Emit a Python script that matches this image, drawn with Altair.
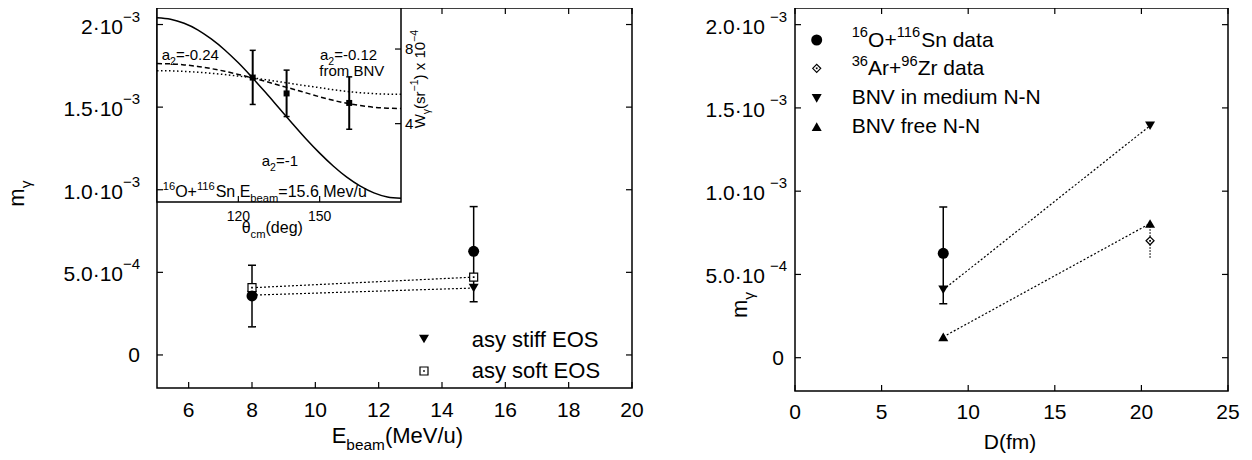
import altair as alt
import pandas as pd

FONT = "Liberation Sans"
BLACK = "black"

# ---------------- values ----------------
# Left panel: m_gamma versus beam energy
E_data = [8, 15]
m_data = [3.57e-4, 6.27e-4]
m_data_lo = [1.70e-4, 3.22e-4]
m_data_hi = [5.43e-4, 8.98e-4]
E_calc = [8, 15]
m_asy_stiff = [3.62e-4, 4.05e-4]
m_asy_soft = [4.07e-4, 4.71e-4]

# Inset: angular distribution W_gamma(theta_cm)
theta_data = [125.3, 137.8, 160.9]
W_data = [6.47, 5.62, 5.11]
W_data_lo = [5.03, 4.38, 3.70]
W_data_hi = [7.93, 6.87, 6.51]
theta_curve = [90, 95, 100, 105, 110, 115, 120, 125, 130, 135, 140, 145, 150, 155, 160, 165, 170, 175, 180]
W_a2_m1 = [9.68, 9.60, 9.38, 9.03, 8.54, 7.95, 7.26, 6.49, 5.68, 4.84, 4.00, 3.18, 2.42, 1.73, 1.13, 0.65, 0.29, 0.07, 0.0]
W_a2_m024 = [7.22, 7.21, 7.15, 7.07, 6.95, 6.81, 6.64, 6.46, 6.27, 6.06, 5.86, 5.65, 5.44, 5.25, 5.09, 4.97, 4.88, 4.83, 4.81]
W_a2_m012 = [6.84, 6.83, 6.80, 6.76, 6.70, 6.63, 6.55, 6.46, 6.36, 6.25, 6.14, 6.03, 5.93, 5.82, 5.73, 5.66, 5.61, 5.58, 5.57]

# Right panel: m_gamma versus D
D_OSn = [8.56]
m_OSn = [6.27e-4]
m_OSn_lo = [3.24e-4]
m_OSn_hi = [9.05e-4]
D_ArZr = [20.5]
m_ArZr = [7.02e-4]
m_ArZr_lo = [6.0e-4]
m_ArZr_hi = [8.06e-4]
D_bnv = [8.56, 20.5]
m_bnv_medium = [4.08e-4, 1.393e-3]
m_bnv_free = [1.25e-4, 8.06e-4]

# Ticks and tick labels
left_x_ticks = [6, 8, 10, 12, 14, 16, 18, 20]
left_x_labels = ["6", "8", "10", "12", "14", "16", "18", "20"]
y_ticks = [0, 5e-4, 1e-3, 1.5e-3, 2e-3]
left_y_mant = ["0", "5.0·10", "1.0·10", "1.5·10", "2·10"]
right_y_mant = ["0", "5.0·10", "1.0·10", "1.5·10", "2.0·10"]
y_exp = ["", "−4", "−3", "−3", "−3"]
right_x_ticks = [0, 5, 10, 15, 20, 25]
right_x_labels = ["0", "5", "10", "15", "20", "25"]
inset_x_ticks = [120, 150]
inset_x_labels = ["120", "150"]
inset_y_ticks = [4, 8]
inset_y_labels = ["4", "8"]

# ---------------- layout (view pixels) ----------------
LW, LH = 475, 380
RX0, RX1, RH = 638, 1071, 383
IW, IH = 244, 194
TK = 6


def sc(domain, rng):
    return alt.Scale(domain=domain, range=rng, nice=False, zero=False)


xL = sc([5, 20], [0, LW])
yL = sc([-2e-4, 2.1e-3], [LH, 0])
xR = sc([0, 25], [RX0, RX1])
yR = sc([-2e-4, 2.1e-3], [RH, 0])
xI = sc([90, 180], [0, IW])
yI = sc([-0.2, 10.2], [IH, 0])


def qx(f, s):
    return alt.X(f + ":Q", scale=s, axis=None)


def qy(f, s):
    return alt.Y(f + ":Q", scale=s, axis=None)


ONE = pd.DataFrame({"k": [0]})
V = alt.value


def frame(x0, x1, y0, y1, fill=None):
    if fill:
        m = alt.Chart(ONE).mark_rect(fill=fill, stroke=BLACK, strokeWidth=1.5)
    else:
        m = alt.Chart(ONE).mark_rect(filled=False, stroke=BLACK, strokeWidth=1.5)
    return m.encode(x=V(x0), x2=V(x1), y=V(y0), y2=V(y1))


def sym(df, xs, ys, xf, yf, shape, size, fill=BLACK, stroke=None, sw=1.2):
    kw = dict(shape=shape, size=size, filled=True, opacity=1, fill=fill)
    if stroke:
        kw.update(stroke=stroke, strokeWidth=sw)
    else:
        kw.update(strokeWidth=0)
    return alt.Chart(df).mark_point(**kw).encode(x=qx(xf, xs), y=qy(yf, ys))


def vsym(x, y, shape, size, fill=BLACK, stroke=None, sw=1.2):
    kw = dict(shape=shape, size=size, filled=True, opacity=1, fill=fill)
    if stroke:
        kw.update(stroke=stroke, strokeWidth=sw)
    else:
        kw.update(strokeWidth=0)
    return alt.Chart(ONE).mark_point(**kw).encode(x=V(x), y=V(y))


txt = dict(font=FONT, color=BLACK)

# ---------------- left panel ----------------
dfL_pts = pd.DataFrame({"E": E_data, "m": m_data, "lo": m_data_lo, "hi": m_data_hi})
dfL_caps = pd.DataFrame({"E": E_data + E_data, "m": m_data_lo + m_data_hi})
dfL_stiff = pd.DataFrame({"E": E_calc, "m": m_asy_stiff})
dfL_soft = pd.DataFrame({"E": E_calc, "m": m_asy_soft})
dfL_xt = pd.DataFrame({"v": left_x_ticks, "lab": left_x_labels})
dfL_yt = pd.DataFrame({"v": y_ticks, "mant": left_y_mant, "exp": y_exp})

tick_kw = dict(color=BLACK, strokeWidth=1.2)
left_a = alt.layer(
    frame(0, LW, 0, LH),
    alt.Chart(dfL_xt).mark_rule(**tick_kw).encode(x=qx("v", xL), y=V(LH), y2=V(LH - TK)),
    alt.Chart(dfL_xt).mark_rule(**tick_kw).encode(x=qx("v", xL), y=V(0), y2=V(TK)),
    alt.Chart(dfL_yt).mark_rule(**tick_kw).encode(y=qy("v", yL), x=V(LW - TK), x2=V(LW)),
    alt.Chart(dfL_xt).mark_text(fontSize=21, baseline="middle", align="center", **txt).encode(
        x=qx("v", xL), y=V(LH + 23), text="lab:N"),
    alt.Chart(dfL_yt[dfL_yt.exp != ""]).mark_text(fontSize=21, baseline="middle", align="right", dy=3, **txt).encode(
        x=V(-34), y=qy("v", yL), text="mant:N"),
    alt.Chart(dfL_yt[dfL_yt.exp != ""]).mark_text(fontSize=15, baseline="middle", align="right", dy=-8, **txt).encode(
        x=V(-17), y=qy("v", yL), text="exp:N"),
    alt.Chart(dfL_yt[dfL_yt.exp == ""]).mark_text(fontSize=21, baseline="middle", align="right", dy=1, **txt).encode(
        x=V(-17), y=qy("v", yL), text="mant:N"),
    alt.Chart(dfL_stiff).mark_line(color=BLACK, strokeWidth=1.2, strokeDash=[2, 2]).encode(
        x=qx("E", xL), y=qy("m", yL)),
    alt.Chart(dfL_soft).mark_line(color=BLACK, strokeWidth=1.2, strokeDash=[2, 2]).encode(
        x=qx("E", xL), y=qy("m", yL)),
    sym(dfL_stiff, xL, yL, "E", "m", "triangle-down", 100),
    alt.Chart(dfL_pts).mark_rule(color=BLACK, strokeWidth=1.5).encode(
        x=qx("E", xL), y=qy("lo", yL), y2="hi:Q"),
    alt.Chart(dfL_caps).mark_tick(orient="horizontal", color=BLACK, size=8, thickness=1.5, opacity=1).encode(
        x=qx("E", xL), y=qy("m", yL)),
    sym(dfL_soft, xL, yL, "E", "m", "square", 64, fill="white", stroke=BLACK),
    sym(dfL_soft, xL, yL, "E", "m", "square", 3),
    sym(dfL_pts, xL, yL, "E", "m", "circle", 121),
    # legend symbols
    vsym(267, 331, "triangle-down", 100),
    vsym(267, 363, "square", 64, fill="white", stroke=BLACK),
    vsym(267, 363, "square", 3),
)

# ---------------- inset ----------------
dfI_curve = pd.DataFrame({"t": theta_curve, "w1": W_a2_m1, "w024": W_a2_m024, "w012": W_a2_m012})
dfI_pts = pd.DataFrame({"t": theta_data, "w": W_data, "lo": W_data_lo, "hi": W_data_hi})
dfI_caps = pd.DataFrame({"t": theta_data + theta_data, "w": W_data_lo + W_data_hi})
dfI_xt = pd.DataFrame({"v": inset_x_ticks, "lab": inset_x_labels})
dfI_yt = pd.DataFrame({"v": inset_y_ticks, "lab": inset_y_labels})

inset = alt.layer(
    frame(0, IW, 0, IH, fill="white"),
    alt.Chart(dfI_curve).mark_line(color=BLACK, strokeWidth=1.5, interpolate="monotone").encode(
        x=qx("t", xI), y=qy("w1", yI)),
    alt.Chart(dfI_curve).mark_line(color=BLACK, strokeWidth=1.5, strokeDash=[5, 3], interpolate="monotone").encode(
        x=qx("t", xI), y=qy("w024", yI)),
    alt.Chart(dfI_curve).mark_line(color=BLACK, strokeWidth=1.5, strokeDash=[1.5, 2.5], interpolate="monotone").encode(
        x=qx("t", xI), y=qy("w012", yI)),
    alt.Chart(dfI_pts).mark_rule(color=BLACK, strokeWidth=2).encode(x=qx("t", xI), y=qy("lo", yI), y2="hi:Q"),
    alt.Chart(dfI_caps).mark_tick(orient="horizontal", color=BLACK, size=6, thickness=1.5, opacity=1).encode(
        x=qx("t", xI), y=qy("w", yI)),
    sym(dfI_pts, xI, yI, "t", "w", "square", 36),
    alt.Chart(dfI_xt).mark_rule(**tick_kw).encode(x=qx("v", xI), y=V(IH), y2=V(IH - TK)),
    alt.Chart(dfI_yt).mark_rule(**tick_kw).encode(y=qy("v", yI), x=V(IW - TK), x2=V(IW)),
    alt.Chart(dfI_xt).mark_text(fontSize=14, baseline="middle", align="center", **txt).encode(
        x=qx("v", xI), y=V(208.5), text="lab:N"),
    alt.Chart(dfI_yt).mark_text(fontSize=15, baseline="middle", align="left", **txt).encode(
        x=V(IW + 4), y=qy("v", yI), text="lab:N"),
)

left_b = alt.Chart(dfL_yt).mark_rule(**tick_kw).encode(y=qy("v", yL), x=V(0), x2=V(TK))

# ---------------- right panel ----------------
dfR_xt = pd.DataFrame({"v": right_x_ticks, "lab": right_x_labels})
dfR_yt = pd.DataFrame({"v": y_ticks, "mant": right_y_mant, "exp": y_exp})
dfR_O = pd.DataFrame({"D": D_OSn, "m": m_OSn, "lo": m_OSn_lo, "hi": m_OSn_hi})
dfR_Ocaps = pd.DataFrame({"D": D_OSn + D_OSn, "m": m_OSn_lo + m_OSn_hi})
dfR_Ar = pd.DataFrame({"D": D_ArZr, "m": m_ArZr, "lo": m_ArZr_lo, "hi": m_ArZr_hi})
dfR_med = pd.DataFrame({"D": D_bnv, "m": m_bnv_medium})
dfR_free = pd.DataFrame({"D": D_bnv, "m": m_bnv_free})

right = alt.layer(
    frame(RX0, RX1, 0, RH),
    alt.Chart(dfR_xt).mark_rule(**tick_kw).encode(x=qx("v", xR), y=V(RH), y2=V(RH - TK)),
    alt.Chart(dfR_xt).mark_rule(**tick_kw).encode(x=qx("v", xR), y=V(0), y2=V(TK)),
    alt.Chart(dfR_yt).mark_rule(**tick_kw).encode(y=qy("v", yR), x=V(RX0), x2=V(RX0 + TK)),
    alt.Chart(dfR_yt).mark_rule(**tick_kw).encode(y=qy("v", yR), x=V(RX1 - TK), x2=V(RX1)),
    alt.Chart(dfR_xt).mark_text(fontSize=21, baseline="middle", align="center", **txt).encode(
        x=qx("v", xR), y=V(RH + 22), text="lab:N"),
    alt.Chart(dfR_yt[dfR_yt.exp != ""]).mark_text(fontSize=21, baseline="middle", align="right", dy=3, **txt).encode(
        x=V(RX0 - 30), y=qy("v", yR), text="mant:N"),
    alt.Chart(dfR_yt[dfR_yt.exp != ""]).mark_text(fontSize=15, baseline="middle", align="right", dy=-8, **txt).encode(
        x=V(RX0 - 8), y=qy("v", yR), text="exp:N"),
    alt.Chart(dfR_yt[dfR_yt.exp == ""]).mark_text(fontSize=21, baseline="middle", align="right", dy=1, **txt).encode(
        x=V(RX0 - 11), y=qy("v", yR), text="mant:N"),
    alt.Chart(dfR_med).mark_line(color=BLACK, strokeWidth=1.2, strokeDash=[2, 2]).encode(
        x=qx("D", xR), y=qy("m", yR)),
    alt.Chart(dfR_free).mark_line(color=BLACK, strokeWidth=1.2, strokeDash=[2, 2]).encode(
        x=qx("D", xR), y=qy("m", yR)),
    alt.Chart(dfR_Ar).mark_rule(color=BLACK, strokeWidth=1.2, strokeDash=[1.5, 1.5]).encode(
        x=qx("D", xR), y=qy("lo", yR), y2="hi:Q"),
    alt.Chart(dfR_O).mark_rule(color=BLACK, strokeWidth=1.5).encode(x=qx("D", xR), y=qy("lo", yR), y2="hi:Q"),
    alt.Chart(dfR_Ocaps).mark_tick(orient="horizontal", color=BLACK, size=8, thickness=1.5, opacity=1).encode(
        x=qx("D", xR), y=qy("m", yR)),
    sym(dfR_O, xR, yR, "D", "m", "circle", 121),
    sym(dfR_med, xR, yR, "D", "m", "triangle-down", 100),
    sym(dfR_free, xR, yR, "D", "m", "triangle-up", 100),
    sym(dfR_Ar, xR, yR, "D", "m", "diamond", 64, fill="white", stroke=BLACK),
    sym(dfR_Ar, xR, yR, "D", "m", "square", 3),
    # legend symbols
    vsym(659.7, 32, "circle", 121),
    vsym(659.7, 60.3, "diamond", 64, fill="white", stroke=BLACK),
    vsym(659.7, 60.3, "square", 3),
    vsym(659.7, 90.3, "triangle-down", 100),
    vsym(659.7, 118.7, "triangle-up", 100),
)

# ---------------- rich text (titles, annotations, legend labels) ----------------
WID = {" ": 278, "(": 333, ")": 333, "+": 584, "-": 333, ".": 278, "/": 278, "=": 584, "·": 278,
       "−": 584, "A": 667, "B": 667, "D": 722, "E": 667, "M": 833, "N": 722, "O": 778, "S": 667,
       "V": 667, "W": 944, "Z": 611, "a": 556, "b": 556, "c": 500, "d": 556, "e": 556, "f": 278,
       "g": 556, "i": 222, "m": 833, "n": 556, "o": 556, "r": 333, "s": 500, "t": 278, "u": 556,
       "v": 500, "x": 500, "y": 500, "θ": 556, "γ": 500}


def twidth(s, size):
    return sum(WID.get(ch, 556) for ch in s) * size / 1000.0


def rich(rows, parts, x, y, size, rot=False):
    pos = 0.0
    for t, kind in parts:
        if kind == "n":
            fs, off = size, 0.0
        elif kind == "sup":
            fs, off = size * 0.7, -size * 0.45
        else:
            fs, off = size * 0.7, size * 0.3
        if rot:
            rows.append({"t": t, "x": x + off, "y": y - pos, "s": fs})
        else:
            rows.append({"t": t, "x": x + pos, "y": y + off, "s": fs})
        pos += twidth(t, fs)


rows, rrows = [], []
rich(rows, [("E", "n"), ("beam", "sub"), ("(MeV/u)", "n")], 174.7, 435.3, 22)
rich(rows, [("D(fm)", "n")], 853 - twidth("D(fm)", 21) / 2, 441, 21)
rich(rows, [("a", "n"), ("2", "sub"), ("=-0.24", "n")], 4.7, 52, 15)
rich(rows, [("a", "n"), ("2", "sub"), ("=-0.12", "n")], 163, 52, 15)
rich(rows, [("from BNV", "n")], 162.3, 68, 15)
rich(rows, [("a", "n"), ("2", "sub"), ("=-1", "n")], 104.7, 158, 15)
rich(rows, [("16", "sup"), ("O+", "n"), ("116", "sup"), ("Sn E", "n"), ("beam", "sub"),
            ("=15.6 Mev/u", "n")], 5.7, 189, 16)
rich(rows, [("θ", "n"), ("cm", "sub"), ("(deg)", "n")], 84.7, 225, 16)
rich(rows, [("asy stiff EOS", "n")], 314.7, 338.7, 22)
rich(rows, [("asy soft EOS", "n")], 314.7, 370, 22)
rich(rows, [("16", "sup"), ("O+", "n"), ("116", "sup"), ("Sn data", "n")], 694.7, 38.5, 21)
rich(rows, [("36", "sup"), ("Ar+", "n"), ("96", "sup"), ("Zr data", "n")], 694.7, 67.3, 21)
rich(rows, [("BNV in medium N-N", "n")], 694.7, 96.2, 21)
rich(rows, [("BNV free N-N", "n")], 694.7, 125.2, 21)

rich(rrows, [("m", "n"), ("γ", "sub")], -133, 198.7, 22, rot=True)
rich(rrows, [("m", "n"), ("γ", "sub")], 590, 310, 22, rot=True)
rich(rrows, [("W", "n"), ("γ", "sub"), ("(sr", "n"), ("−1", "sup"), (") x 10", "n"), ("−4", "sup")],
     268, 120.3, 15, rot=True)

df_rows = pd.DataFrame(rows)
df_rrows = pd.DataFrame(rrows)
texts = alt.Chart(df_rows).mark_text(align="left", baseline="alphabetic", **txt).encode(
    x=alt.X("x:Q", scale=None, axis=None), y=alt.Y("y:Q", scale=None, axis=None),
    text="t:N", size=alt.Size("s:Q", scale=None, legend=None))
rtexts = alt.Chart(df_rrows).mark_text(align="left", baseline="alphabetic", angle=270, **txt).encode(
    x=alt.X("x:Q", scale=None, axis=None), y=alt.Y("y:Q", scale=None, axis=None),
    text="t:N", size=alt.Size("s:Q", scale=None, legend=None))

chart = alt.layer(left_a, inset, left_b, right, texts, rtexts).resolve_scale(
    x="independent", y="independent"
).properties(
    width=RX1, height=RH, background="white",
    autosize=alt.AutoSizeParams(type="none"),
    padding={"left": 149, "top": 0, "right": 16, "bottom": 64},
).configure_view(strokeWidth=0)

chart.save("out.html", embed_options={"renderer": "svg", "actions": False})
